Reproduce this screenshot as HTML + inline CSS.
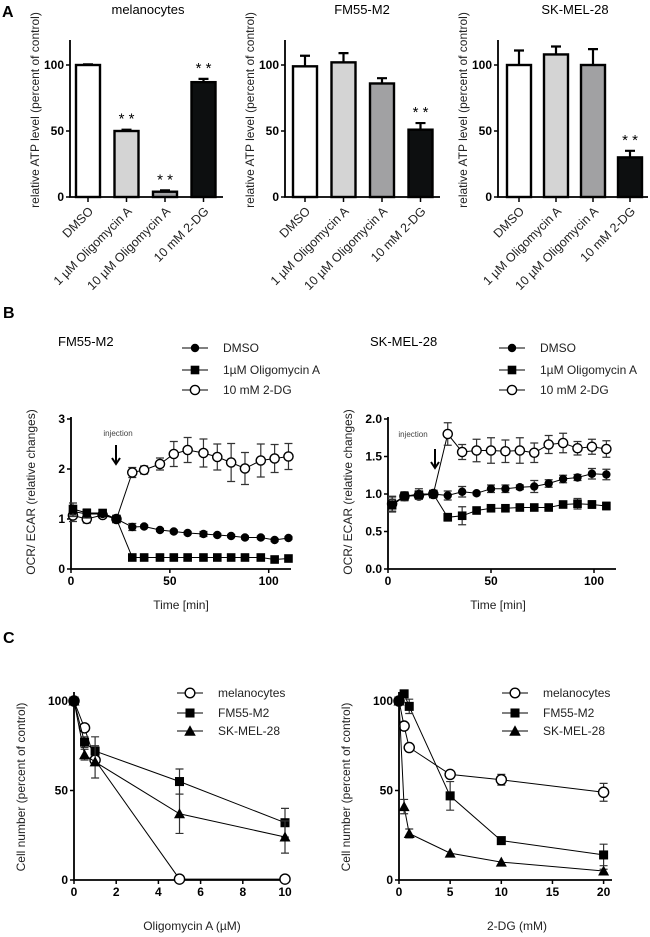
<!DOCTYPE html>
<html><head><meta charset="utf-8">
<style>
html,body{margin:0;padding:0;background:#fff;}
svg{display:block;font-family:"Liberation Sans",Arial,sans-serif;}
</style></head>
<body>
<svg id="fig" width="650" height="937" viewBox="0 0 650 937" xmlns="http://www.w3.org/2000/svg">
<text x="2" y="17" font-size="16" font-weight="bold">A</text>
<text x="3" y="318" font-size="16" font-weight="bold">B</text>
<text x="3" y="643" font-size="16" font-weight="bold">C</text>
</svg>
<script>
// ---- Panel A data ----
const aCats = ['DMSO','1 µM Oligomycin A','10 µM Oligomycin A','10 mM 2-DG'];
const aMelVals = [100, 50, 4, 87];
const aMelErr = [0.5, 1, 1, 2.5];
const aMelSig = [0, 1, 1, 1];
const aFmVals = [99, 102, 86, 51];
const aFmErr = [8, 7, 4, 5];
const aFmSig = [0, 0, 0, 1];
const aSkVals = [100, 108, 100, 30];
const aSkErr = [11, 6, 12, 5];
const aSkSig = [0, 0, 0, 1];
const aTicks = [0, 50, 100];
// ---- Panel B data ----
const bTimes1 = [1, 8, 16, 23, 31, 37, 45, 52, 59, 67, 74, 81, 88, 96, 103, 110];
const bFmDmso = [1.15, 1.1, 1.1, 1.0, 0.84, 0.85, 0.78, 0.75, 0.72, 0.70, 0.68, 0.66, 0.63, 0.63, 0.58, 0.62];
const bFmDmsoErr = [0.1, 0.08, 0.05, 0, 0.07, 0.03, 0.03, 0.03, 0.03, 0.05, 0.03, 0.03, 0.03, 0.03, 0.03, 0.03];
const bFmOligo = [1.2, 1.12, 1.12, 1.0, 0.23, 0.23, 0.23, 0.23, 0.23, 0.23, 0.23, 0.23, 0.23, 0.23, 0.19, 0.21];
const bFmOligoErr = [0.12, 0.08, 0.05, 0, 0.02, 0.02, 0.02, 0.02, 0.02, 0.02, 0.02, 0.02, 0.02, 0.02, 0.02, 0.02];
const bFm2dg = [1.07, 1.0, 1.08, 1.0, 1.93, 1.98, 2.1, 2.3, 2.38, 2.32, 2.24, 2.13, 2.01, 2.17, 2.21, 2.25];
const bFm2dgErr = [0.12, 0.08, 0.05, 0, 0.1, 0.08, 0.12, 0.25, 0.25, 0.28, 0.26, 0.38, 0.32, 0.33, 0.28, 0.26];
const bTimes2 = [2, 8, 15, 22, 29, 36, 43, 50, 57, 64, 71, 78, 85, 92, 99, 106];
const bSkDmso = [0.86, 0.97, 1.0, 1.0, 0.98, 1.03, 1.01, 1.07, 1.07, 1.09, 1.1, 1.14, 1.2, 1.22, 1.27, 1.26];
const bSkDmsoErr = [0.1, 0.06, 0.07, 0.02, 0.06, 0.07, 0.02, 0.05, 0.05, 0.03, 0.08, 0.05, 0.05, 0.04, 0.07, 0.07];
const bSkOligo = [0.85, 0.97, 0.99, 1.0, 0.69, 0.71, 0.78, 0.81, 0.81, 0.82, 0.82, 0.82, 0.86, 0.87, 0.86, 0.84];
const bSkOligoErr = [0.08, 0.05, 0.05, 0.02, 0.05, 0.12, 0.02, 0.02, 0.02, 0.03, 0.03, 0.03, 0.03, 0.07, 0.05, 0.05];
const bSk2dg = [0.87, 0.97, 0.98, 1.0, 1.8, 1.56, 1.58, 1.58, 1.57, 1.58, 1.55, 1.66, 1.68, 1.61, 1.63, 1.60];
const bSk2dgErr = [0.1, 0.05, 0.05, 0, 0.15, 0.1, 0.15, 0.17, 0.15, 0.17, 0.13, 0.12, 0.13, 0.09, 0.1, 0.11];
const bLegend = ['DMSO', '1µM Oligomycin A', '10 mM 2-DG'];
const b1YTicks = [0, 1, 2, 3];
const b2YTicks = [0, 0.5, 1.0, 1.5, 2.0];
const bXTicks = [0, 50, 100];
// ---- Panel C data ----
const cOligoDose = [0, 0.5, 1, 5, 10];
const cOligoMel = [100, 85, 67, 0.5, 0.5];
const cOligoMelErr = [0, 0, 0, 0, 0];
const cOligoFm = [100, 77, 72, 55, 32];
const cOligoFmErr = [0, 3, 8, 7, 8];
const cOligoSk = [100, 70, 66, 37, 24];
const cOligoSkErr = [0, 3, 9, 11, 9];
const cDgDose = [0, 0.5, 1, 5, 10, 20];
const cDgMel = [100, 86, 74, 59, 56, 49];
const cDgMelErr = [0, 0, 0, 1, 3, 5];
const cDgFm = [100, 104, 97, 47, 22, 14];
const cDgFmErr = [0, 0, 4, 8, 1, 6];
const cDgSk = [100, 41, 26, 15, 10, 5];
const cDgSkErr = [0, 4, 2.5, 0, 0, 1];
const cLegend = ['melanocytes', 'FM55-M2', 'SK-MEL-28'];
const c1XTicks = [0, 2, 4, 6, 8, 10];
const c2XTicks = [0, 5, 10, 15, 20];
const cYTicks = [0, 50, 100];

const NS = 'http://www.w3.org/2000/svg';
const fig = document.getElementById('fig');
function mk(tag, attrs, parent) {
  const e = document.createElementNS(NS, tag);
  for (const k in attrs) e.setAttribute(k, attrs[k]);
  (parent || fig).appendChild(e);
  return e;
}
function txt(x, y, s, size, opts, parent) {
  const e = mk('text', Object.assign({x: x, y: y, 'font-size': size}, opts || {}), parent);
  e.textContent = s;
  return e;
}

// ---------- Panel A ----------
const aFills = ['#ffffff', '#d4d4d4', '#a1a1a3', '#0d0f10'];
function drawA(name, title, titleX, axX, firstX, step, endX, vals, errs, sig) {
  const g = mk('g', {});
  
  
  const y0 = 197, k = 1.32;
  const sy = v => y0 - v * k;
  const sx = i => firstX + i * step;
  const t = txt(titleX, 14, title, 13, {'text-anchor': 'middle'}, g);
  
  
  const yl = txt(0, 0, 'relative ATP level (percent of control)', 12, {'text-anchor': 'middle', transform: 'translate(' + (axX - 31) + ',110) rotate(-90)', fill: '#222'}, g);
  
  
  for (let i = 0; i < vals.length; i++) {
    const x = sx(i), top = sy(vals[i]);
    const eb = mk('path', {d: 'M' + x + ' ' + top + 'V' + sy(vals[i] + errs[i]) + 'M' + (x - 5) + ' ' + sy(vals[i] + errs[i]) + 'H' + (x + 5), stroke: '#000', 'stroke-width': 2.2, fill: 'none'}, g);
    
    
    const b = mk('rect', {x: x - 12, y: top, width: 24, height: Math.max(0, y0 - top), fill: aFills[i], stroke: '#000', 'stroke-width': 2.4}, g);
    
    
    if (sig[i]) {
      const st = txt(x, sy(vals[i] + errs[i]) - 6, '* *', 15, {'text-anchor': 'middle'}, g);
      
      
    }
    const tk = mk('line', {x1: x, x2: x, y1: y0, y2: y0 + 5, stroke: '#000', 'stroke-width': 1.5}, g);
    
    
    const lb = txt(0, 0, aCats[i], 12.5, {'text-anchor': 'end', transform: 'translate(' + (x + 6) + ',' + (y0 + 15) + ') rotate(-45)', fill: '#222'}, g);
    
    
  }
  const ax = mk('path', {d: 'M' + axX + ' 40V' + y0 + 'H' + endX, stroke: '#000', 'stroke-width': 1.8, fill: 'none'}, g);
  
  
  aTicks.forEach(v => {
    const tk = mk('line', {x1: axX - 4, x2: axX, y1: sy(v), y2: sy(v), stroke: '#000', 'stroke-width': 1.5}, g);
    
    
    const l = txt(axX - 6, sy(v) + 4, String(v), 12, {'text-anchor': 'end', 'font-weight': 'bold'}, g);
    
    
  });
}
drawA('melanocytes', 'melanocytes', 148, 70, 88, 38.5, 223, aMelVals, aMelErr, aMelSig);
drawA('fm55', 'FM55-M2', 362, 285, 305, 38.5, 440, aFmVals, aFmErr, aFmSig);
drawA('skmel', 'SK-MEL-28', 575, 498, 519, 37, 648, aSkVals, aSkErr, aSkSig);

// ---------- markers ----------
function marker(g, type, x, y, s) {
  let e;
  if (type === 'dot') e = mk('circle', {cx: x, cy: y, r: 4.2 * s, fill: '#000'}, g);
  else if (type === 'square') e = mk('rect', {x: x - 4.3 * s, y: y - 4.3 * s, width: 8.6 * s, height: 8.6 * s, fill: '#000'}, g);
  else if (type === 'open') e = mk('circle', {cx: x, cy: y, r: 4.6 * s, fill: '#fff', stroke: '#000', 'stroke-width': 1.4}, g);
  else e = mk('path', {d: 'M' + x + ' ' + (y - 5.5 * s) + 'L' + (x + 5.5 * s) + ' ' + (y + 4.5 * s) + 'L' + (x - 5.5 * s) + ' ' + (y + 4.5 * s) + 'Z', fill: '#000'}, g);
  return e;
}
function series(g, name, type, xs, ys, es, sx, sy, s) {
  let d = '';
  xs.forEach((t, i) => { d += (i ? 'L' : 'M') + sx(t).toFixed(1) + ' ' + sy(ys[i]).toFixed(1); });
  const ln = mk('path', {d: d, stroke: '#000', 'stroke-width': 1, fill: 'none'}, g);
  
  
  xs.forEach((t, i) => {
    if (es[i] > 0) {
      const x = sx(t), a = sy(ys[i] + es[i]), b = sy(ys[i] - es[i]);
      const eb = mk('path', {d: 'M' + x + ' ' + a + 'V' + b + 'M' + (x - 4) + ' ' + a + 'H' + (x + 4) + 'M' + (x - 4) + ' ' + b + 'H' + (x + 4), stroke: '#333', 'stroke-width': 1.2, fill: 'none'}, g);
      
      
    }
  });
  xs.forEach((t, i) => {
    const m = marker(g, type, sx(t), sy(ys[i]), s);
    
    
  });
}
function axes(g, name, x0, y0, xEnd, yTop, xTicks, sx, yTicks, sy, fmt) {
  const ax = mk('path', {d: 'M' + x0 + ' ' + yTop + 'V' + y0 + 'H' + xEnd, stroke: '#000', 'stroke-width': 1.8, fill: 'none'}, g);
  
  
  xTicks.forEach(v => {
    const tk = mk('line', {x1: sx(v), x2: sx(v), y1: y0, y2: y0 + 4, stroke: '#000', 'stroke-width': 1.5}, g);
    
    
    const l = txt(sx(v), y0 + 16, String(v), 12, {'text-anchor': 'middle', 'font-weight': 'bold'}, g);
    
    
  });
  yTicks.forEach(v => {
    const tk = mk('line', {x1: x0 - 4, x2: x0, y1: sy(v), y2: sy(v), stroke: '#000', 'stroke-width': 1.5}, g);
    
    
    const l = txt(x0 - 6, sy(v) + 4, fmt(v), 12, {'text-anchor': 'end', 'font-weight': 'bold'}, g);
    
    
  });
}
function legend(g, name, x, ys, labels, types, s) {
  labels.forEach((lab, i) => {
    const ln = mk('line', {x1: x - 13, x2: x + 13, y1: ys[i], y2: ys[i], stroke: '#000', 'stroke-width': 1}, g);
    
    
    const m = marker(g, types[i], x, ys[i], s);
    
    
    const t = txt(x + 28, ys[i] + 4, lab, 12, {fill: '#222'}, g);
    
    
  });
}

// ---------- Panel B ----------
function drawB(name, title, titleX, x0, pxMin, yUnit, yMax, xEnd, yTicks, fmt, times, d, o, t2, inj) {
  const g = mk('g', {});
  
  
  const y0 = 569;
  const sx = v => x0 + v * pxMin;
  const sy = v => y0 - v * yUnit;
  const tt = txt(titleX, 346, title, 13, {}, g);
  
  
  legend(g, name, x0 + 124, [348, 370, 390], bLegend, ['dot', 'square', 'open'], 1);
  axes(g, name, x0, y0, xEnd, sy(yMax) - 2, bXTicks, sx, yTicks, sy, fmt);
  const yl = txt(0, 0, 'OCR/ ECAR (relative changes)', 12, {'text-anchor': 'middle', transform: 'translate(' + (x0 - 36) + ',492) rotate(-90)', fill: '#222'}, g);
  
  
  const xl = txt(x0 + 110, 609, 'Time [min]', 12, {'text-anchor': 'middle', fill: '#222'}, g);
  
  
  const it = txt(inj[0], inj[1], 'injection', 8, {'text-anchor': 'middle', fill: '#444'}, g);
  
  
  const ar = mk('path', {d: 'M' + inj[2] + ' ' + inj[3] + 'V' + (inj[3] + 19) + 'M' + (inj[2] - 4) + ' ' + (inj[3] + 13) + 'L' + inj[2] + ' ' + (inj[3] + 19) + 'L' + (inj[2] + 4) + ' ' + (inj[3] + 13), stroke: '#000', 'stroke-width': 2, fill: 'none'}, g);
  
  
  series(g, name + '-2dg', 'open', times, t2[0], t2[1], sx, sy, 1);
  series(g, name + '-dmso', 'dot', times, d[0], d[1], sx, sy, 1);
  series(g, name + '-oligomycin', 'square', times, o[0], o[1], sx, sy, 1);
}
drawB('fm55', 'FM55-M2', 58, 71, 1.977, 50, 3, 291, b1YTicks, v => String(v), bTimes1,
  [bFmDmso, bFmDmsoErr], [bFmOligo, bFmOligoErr], [bFm2dg, bFm2dgErr], [118, 436, 116, 445]);
drawB('skmel', 'SK-MEL-28', 370, 388, 2.06, 75, 2, 616, b2YTicks, v => v.toFixed(1), bTimes2,
  [bSkDmso, bSkDmsoErr], [bSkOligo, bSkOligoErr], [bSk2dg, bSk2dgErr], [413, 437, 435, 449]);

// ---------- Panel C ----------
function drawC(name, x0, pxUnit, xEnd, xTicks, xTitle, dose, mel, fm, sk) {
  const g = mk('g', {});
  
  
  const y0 = 880;
  const sx = v => x0 + v * pxUnit;
  const sy = v => y0 - v * 1.79;
  axes(g, name, x0, y0, xEnd, 692, xTicks, sx, cYTicks, sy, v => String(v));
  const yl = txt(0, 0, 'Cell number (percent of control)', 12, {'text-anchor': 'middle', transform: 'translate(' + (x0 - 49) + ',787) rotate(-90)', fill: '#222'}, g);
  
  
  const xl = txt(x0 + 118, 930, xTitle, 12, {'text-anchor': 'middle', fill: '#222'}, g);
  
  
  legend(g, name, x0 + 116, [693, 713, 731], cLegend, ['open', 'square', 'tri'], 1.05);
  series(g, name + '-melanocytes', 'open', dose, mel[0], mel[1], sx, sy, 1.1);
  series(g, name + '-fm55', 'square', dose, fm[0], fm[1], sx, sy, 1.05);
  series(g, name + '-skmel', 'tri', dose, sk[0], sk[1], sx, sy, 1);
}
drawC('oligomycin', 74, 21.1, 290, c1XTicks, 'Oligomycin A (µM)', cOligoDose,
  [cOligoMel, cOligoMelErr], [cOligoFm, cOligoFmErr], [cOligoSk, cOligoSkErr]);
drawC('2dg', 399, 10.23, 612, c2XTicks, '2-DG (mM)', cDgDose,
  [cDgMel, cDgMelErr], [cDgFm, cDgFmErr], [cDgSk, cDgSkErr]);
</script>
</body></html>
